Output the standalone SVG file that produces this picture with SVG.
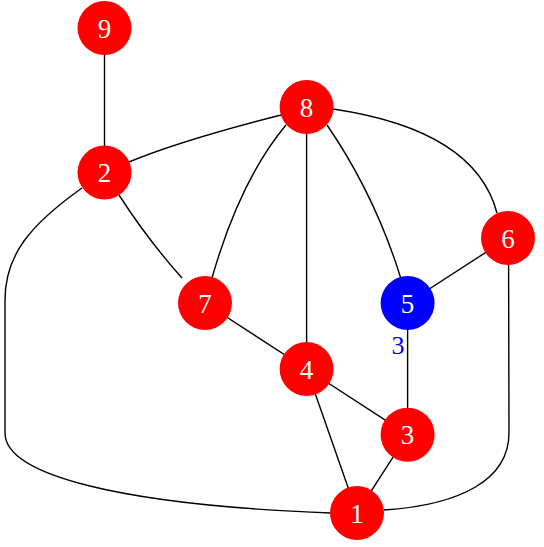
<svg xmlns="http://www.w3.org/2000/svg" width="544" height="547" viewBox="0 0 544 547">
<style>
.e{fill:none;stroke:#000;stroke-width:1.4}
.n circle{stroke:none}
.r circle{fill:#ff0000}
.b circle{fill:#0000ff}
.n text{fill:#fff;font-family:"Liberation Serif","Times New Roman",serif;font-size:27px;text-anchor:middle}
.lbl{fill:#0000ff;font-family:"Liberation Serif","Times New Roman",serif;font-size:26px;text-anchor:middle}
</style>
<rect width="544" height="547" fill="#fff"/>
<g id="edges">
<path class="e" d="M104.5,28 L104.5,172"/>
<path class="e" d="M285,114 Q182,140 129,162"/>
<path class="e" d="M119,195 Q148,240 182,278"/>
<path class="e" d="M286,125 Q240,180 212,278"/>
<path class="e" d="M306.6,107 L306.6,369"/>
<path class="e" d="M327,125 Q375,195 400.7,278"/>
<path class="e" d="M333,109 Q475,130 497,213"/>
<path class="e" d="M508,238 L407.6,303"/>
<path class="e" d="M508.6,265 L509,433 C509,480 460,505 384,510"/>
<path class="e" d="M82,188 C30,225 5,255 5,300 L5,433 C5,475 120,505 331,513"/>
<path class="e" d="M205,303 L306.6,369"/>
<path class="e" d="M306.6,369 L407.6,434.7"/>
<path class="e" d="M306.6,369 L357,513"/>
<path class="e" d="M407.6,434.7 L357,513"/>
<path class="e" d="M407.6,303 L407.6,434.7"/>
</g>
<g id="node9" class="n r"><circle cx="104.5" cy="28" r="27"/><text x="104.5" y="37.5">9</text></g>
<g id="node8" class="n r"><circle cx="306.6" cy="107" r="27"/><text x="306.6" y="116.5">8</text></g>
<g id="node2" class="n r"><circle cx="104.5" cy="172.5" r="27"/><text x="104.5" y="182">2</text></g>
<g id="node6" class="n r"><circle cx="508" cy="238" r="27"/><text x="508" y="247.5">6</text></g>
<g id="node7" class="n r"><circle cx="205" cy="303" r="27"/><text x="205" y="312.5">7</text></g>
<g id="node5" class="n b"><circle cx="407.6" cy="303" r="27"/><text x="407.6" y="312.5">5</text></g>
<text class="lbl" x="398" y="354">3</text>
<g id="node4" class="n r"><circle cx="306.6" cy="369" r="27"/><text x="306.6" y="378.5">4</text></g>
<g id="node3" class="n r"><circle cx="407.6" cy="434.7" r="27"/><text x="407.6" y="444.2">3</text></g>
<g id="node1" class="n r"><circle cx="357" cy="513" r="27"/><text x="357" y="522.5">1</text></g>
</svg>
